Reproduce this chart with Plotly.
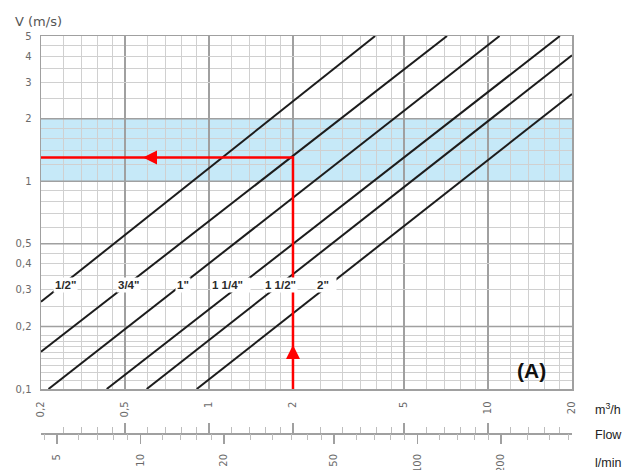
import numpy as np
import plotly.graph_objects as go

# ---------------- data ----------------
x_range = [0.25, 20]          # m3/h, log axis
y_range = [0.1, 5]            # V (m/s), log axis
lmin_range = [4.38, 361]      # l/min scale under the chart

x_major_vals = [0.25, 0.5, 1, 2, 5, 10, 20]
x_major_text = ["0,2", "0,5", "1", "2", "5", "10", "20"]
x_minor_vals = [0.3, 0.35, 0.4, 0.45, 0.6, 0.7, 0.8, 0.9, 1.2, 1.4, 1.6, 1.8,
                2.5, 3, 3.5, 4, 4.5, 6, 7, 8, 9, 12, 14, 16, 18]

y_tick_vals = [0.1, 0.2, 0.3, 0.4, 0.5, 1, 2, 3, 4, 5]
y_tick_text = ["0,1", "0,2", "0,3", "0,4", "0,5", "1", "2", "3", "4", "5"]
y_major_vals = [0.2, 0.5, 1, 2]
y_minor_vals = [0.11, 0.12, 0.13, 0.14, 0.15, 0.16, 0.17, 0.18,
                0.25, 0.35, 0.45, 0.6, 0.7, 0.8, 0.9,
                1.2, 1.4, 1.6, 1.8, 2.5, 3.5, 4.5]

lmin_major_vals = [5, 10, 20, 50, 100, 200]
lmin_major_text = ["5", "10", "20", "50", "100", "200"]
lmin_minor_vals = [4.5, 6, 7, 8, 9, 12, 14, 16, 18, 25, 30, 35, 40, 45,
                   60, 70, 80, 90, 120, 140, 160, 180, 250, 300, 350]

# pipe lines: start / end points (flow m3/h, velocity m/s)
pipe_names = ['1/2"', '3/4"', '1"', '1 1/4"', '1 1/2"', '2"']
pipe_q_start = [0.25, 0.25, 0.266, 0.430, 0.598, 0.904]
pipe_v_start = [0.263, 0.151, 0.1, 0.1, 0.1, 0.1]
pipe_q_end = [3.94, 7.13, 11.0, 18.1, 20, 20]
pipe_v_end = [5, 5, 5, 5, 4.04, 2.63]

# pipe labels
label_q = [0.305, 0.513, 0.807, 1.19, 1.81, 2.62]
label_v = [0.317, 0.317, 0.317, 0.317, 0.317, 0.317]
label_text = ['1/2"', '3/4"', '1"', '1 1/4"\u00a0\u00a0', '1 1/2"', '2"\u00a0\u00a0']

# recommended velocity band
band_low, band_high = 1, 2

# example reading (red)
red_q = [2, 2, 0.25]
red_v = [0.1, 1.30, 1.30]
arrow_q = [2, 0.58]
arrow_v = [0.163, 1.30]
arrow_sym = ["arrow-up", "arrow-left"]

# ---------------- styling ----------------
W, H = 632, 470
ML, MR, MT, MB = 41, 60, 36, 35
plot_w = W - ML - MR
plot_h = H - MT - MB
y_dom0 = (H - MB - 389) / plot_h
scale_pos = (H - MB - 433) / plot_h

major_c = "#a0a0a0"
minor_c = "#d0d0d0"
tick_font = dict(family="DejaVu Sans", size=10, color="#6a6a6a")

fig = go.Figure()

# darker major horizontal grid lines (drawn first, under everything else)
for v in y_major_vals:
    fig.add_trace(go.Scatter(x=x_range, y=[v, v], mode="lines",
                             line=dict(color=major_c, width=1.5),
                             hoverinfo="skip", showlegend=False))

# pipe lines
for i, name in enumerate(pipe_names):
    fig.add_trace(go.Scatter(
        x=[pipe_q_start[i], pipe_q_end[i]], y=[pipe_v_start[i], pipe_v_end[i]],
        mode="lines", line=dict(color="#1c1c1c", width=2), name=name,
        hoverinfo="skip", showlegend=False))

# red reading path
fig.add_trace(go.Scatter(x=red_q, y=red_v, mode="lines",
                         line=dict(color="#ff0000", width=2.5),
                         hoverinfo="skip", showlegend=False))
fig.add_trace(go.Scatter(x=arrow_q, y=arrow_v, mode="markers",
                         marker=dict(symbol=arrow_sym, size=14, color="#ff0000",
                                     line=dict(width=0)),
                         hoverinfo="skip", showlegend=False))

# empty traces so the two scale axes get their subplots
fig.add_trace(go.Scatter(x=[], y=[], xaxis="x2", yaxis="y", mode="lines",
                         hoverinfo="skip", showlegend=False))
fig.add_trace(go.Scatter(x=[], y=[], xaxis="x3", yaxis="y", mode="lines",
                         hoverinfo="skip", showlegend=False))

# band
fig.add_shape(type="rect", xref="x domain", yref="y", x0=0, x1=1,
              y0=band_low, y1=band_high, fillcolor="#c6e9f8",
              line=dict(width=0), layer="below")

# pipe labels
for q, v, t in zip(label_q, label_v, label_text):
    fig.add_annotation(x=np.log10(q), y=np.log10(v), xref="x", yref="y",
                       text=t, showarrow=False, bgcolor="white", borderpad=1,
                       xanchor="center", yanchor="middle",
                       font=dict(family="Liberation Sans", size=11.5, color="#2b2b2b",
                                 weight="bold"))

# (A)
fig.add_annotation(x=(531 - ML) / plot_w, y=(389 - 370) / (389 - 36),
                   xref="x domain", yref="y domain", xanchor="center",
                   yanchor="middle", text="<b>(A)</b>", showarrow=False,
                   font=dict(family="Liberation Sans", size=21, color="#111"))
# V (m/s)
fig.add_annotation(x=(38.5 - ML) / plot_w, y=(H - MB - 22) / plot_h,
                   xref="paper", yref="paper", xanchor="center", yanchor="middle",
                   text="V (m/s)", showarrow=False,
                   font=dict(family="DejaVu Sans", size=13, color="#555"))
# right-side unit labels
for txt, py in [("m<sup>3</sup>/h", 409), ("Flow", 435), ("l/min", 463)]:
    fig.add_annotation(x=(593 - ML) / plot_w, y=(H - MB - py) / plot_h,
                       xref="paper", yref="paper", xanchor="left", yanchor="middle",
                       text=txt, showarrow=False,
                       font=dict(family="Liberation Sans", size=12.5, color="#222"))

logr = lambda r: [np.log10(r[0]), np.log10(r[1])]

fig.update_layout(
    width=W, height=H, template="none",
    margin=dict(l=ML, r=MR, t=MT, b=MB, autoexpand=False),
    paper_bgcolor="white", plot_bgcolor="white",
    showlegend=False, hovermode=False,
    xaxis=dict(type="log", range=logr(x_range), tickvals=x_major_vals,
               ticktext=x_major_text, tickangle=-90, ticks="",
               ticklabelstandoff=7, tickfont=tick_font,
               showgrid=True, gridcolor=major_c, gridwidth=1.5,
               minor=dict(tickvals=x_minor_vals, showgrid=True,
                          gridcolor=minor_c, gridwidth=1, ticks=""),
               showline=True, mirror=True, linecolor=major_c, linewidth=1.5,
               zeroline=False, automargin=False, fixedrange=True),
    yaxis=dict(type="log", range=logr(y_range), domain=[y_dom0, 1],
               tickvals=y_tick_vals, ticktext=y_tick_text, ticks="",
               ticklabelstandoff=6, tickfont=tick_font,
               showgrid=True, gridcolor=minor_c, gridwidth=1,
               minor=dict(tickvals=y_minor_vals, showgrid=True,
                          gridcolor=minor_c, gridwidth=1, ticks=""),
               showline=True, mirror=True, linecolor=major_c, linewidth=1.5,
               zeroline=False, automargin=False, fixedrange=True),
    xaxis2=dict(type="log", range=logr(x_range), overlaying="x", anchor="free",
                position=scale_pos, side="bottom",
                tickvals=x_major_vals, showticklabels=False,
                ticks="inside", ticklen=10, tickwidth=1.5, tickcolor=major_c,
                minor=dict(tickvals=x_minor_vals, ticks="inside", ticklen=6,
                           tickwidth=1, tickcolor="#bdbdbd", showgrid=False),
                showgrid=False, showline=True, linecolor=major_c, linewidth=1.5,
                zeroline=False, automargin=False, fixedrange=True),
    xaxis3=dict(type="log", range=logr(lmin_range), overlaying="x", anchor="free",
                position=scale_pos, side="bottom",
                tickvals=lmin_major_vals, ticktext=lmin_major_text,
                tickangle=-90, tickfont=tick_font, ticklabelstandoff=6,
                ticks="outside", ticklen=10, tickwidth=1.5, tickcolor=major_c,
                minor=dict(tickvals=lmin_minor_vals, ticks="outside", ticklen=6,
                           tickwidth=1, tickcolor="#bdbdbd", showgrid=False),
                showgrid=False, showline=False,
                zeroline=False, automargin=False, fixedrange=True),
)

fig.write_html("out.html", config=dict(displayModeBar=False, staticPlot=True),
               post_script="document.body.style.margin='0';")
